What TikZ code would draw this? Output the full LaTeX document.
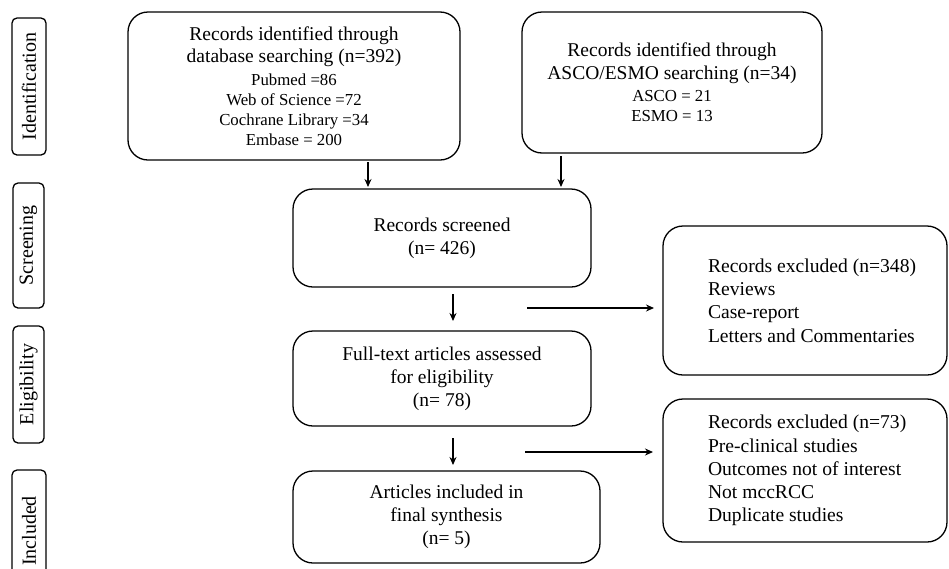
\documentclass[tikz,border=0pt]{standalone}
\usepackage{fontspec}
\setmainfont{Liberation Serif}
\usetikzlibrary{arrows.meta}
\newcommand{\smallln}{\fontsize{16.8}{20}\selectfont}
\newcommand{\exlines}[1]{\hspace*{16pt}\parbox[c]{210pt}{\raggedright #1}}
\begin{document}
\begin{tikzpicture}[x=1pt,y=-1pt,
 box/.style={draw, line width=1.3pt, rounded corners=20pt, align=center, inner sep=0pt, font=\fontsize{19.5}{23}\selectfont},
 exbox/.style={draw, line width=1.3pt, rounded corners=20pt, inner sep=0pt, font=\fontsize{19.6}{23.2}\selectfont},
 side/.style={draw, line width=1.3pt, rounded corners=5pt, rotate=90, inner sep=0pt, font=\fontsize{20}{23}\selectfont},
 arr/.style={line width=1.6pt, -{Stealth[length=8pt,width=7pt]}},
]
\clip (0,0) rectangle (949,568);
\fill[white] (0,0) rectangle (949,568);
% side labels
\node[side, minimum width=137pt, minimum height=34pt] (sid) at (29,86.5) {Identification};
\node[side, minimum width=125pt, minimum height=31pt] (ssc) at (28.5,245.5) {Screening};
\node[side, minimum width=117pt, minimum height=31pt] (sel) at (28.5,384.5) {Eligibility};
\node[side, minimum width=122pt, minimum height=34pt] (sin) at (29,531) {Included};
% main boxes
\node[box, minimum width=332pt, minimum height=148pt] (db) at (294,86)
 {Records identified through\\[-1pt]database searching (n=392)\\[0pt]\smallln Pubmed =86\\[-3pt]\smallln Web of Science =72\\[-3pt]\smallln Cochrane Library =34\\[-3pt]\smallln Embase = 200};
\node[box, minimum width=300pt, minimum height=141pt] (asco) at (672,82.5)
 {Records identified through\\ASCO/ESMO searching (n=34)\\[-1pt]\smallln ASCO = 21\\[-3pt]\smallln ESMO = 13};
\node[box, minimum width=298pt, minimum height=98pt] (scr) at (442,238)
 {Records screened\\(n= 426)};
\node[box, minimum width=298pt, minimum height=95pt] (full) at (442,378.5)
 {Full-text articles assessed\\for eligibility\\(n= 78)};
\node[box, minimum width=307pt, minimum height=92pt] (inc) at (446.5,517)
 {Articles included in\\final synthesis\\(n= 5)};
\node[exbox, minimum width=284pt, minimum height=149pt] (ex1) at (805,300.5)
 {\exlines{Records excluded (n=348)\\Reviews\\Case-report\\Letters and Commentaries}};
\node[exbox, minimum width=284pt, minimum height=143pt] (ex2) at (805,470.5)
 {\exlines{Records excluded (n=73)\\Pre-clinical studies\\Outcomes not of interest\\Not mccRCC\\Duplicate studies}};
% arrow coordinates
\coordinate (a1s) at (368,162); \coordinate (a1e) at (368,187);
\coordinate (a2s) at (561,156); \coordinate (a2e) at (561,187);
\coordinate (a3s) at (453,294); \coordinate (a3e) at (453,321);
\coordinate (a4s) at (453,438); \coordinate (a4e) at (453,465);
\coordinate (h1s) at (527,308); \coordinate (h1e) at (654,308);
\coordinate (h2s) at (525,452); \coordinate (h2e) at (653,452);
\draw[arr] (a1s) -- (a1e);
\draw[arr] (a2s) -- (a2e);
\draw[arr] (a3s) -- (a3e);
\draw[arr] (a4s) -- (a4e);
\draw[arr] (h1s) -- (h1e);
\draw[arr] (h2s) -- (h2e);
\end{tikzpicture}
\end{document}
